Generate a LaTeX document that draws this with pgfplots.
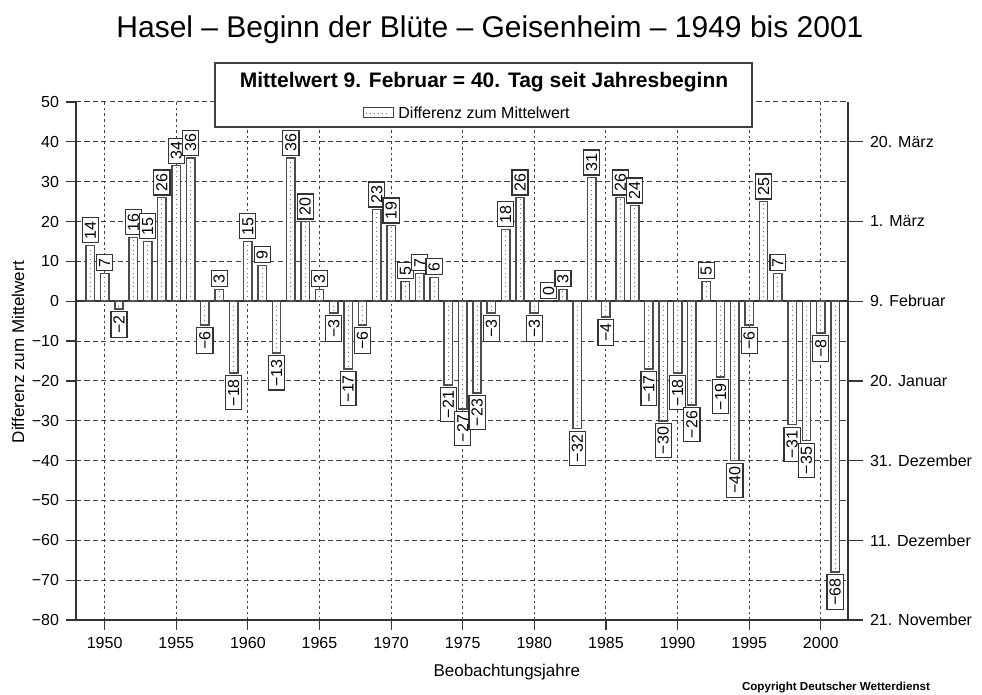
\documentclass[border=0pt]{standalone}
\usepackage{pgfplots}
\pgfplotsset{compat=1.18}
\usepackage{pgfplotstable}
\usepackage{graphicx}
\usepackage{fontspec}
\setmainfont{Liberation Sans}

\pgfplotstableread{
year diff
1949 14
1950 7
1951 -2
1952 16
1953 15
1954 26
1955 34
1956 36
1957 -6
1958 3
1959 -18
1960 15
1961 9
1962 -13
1963 36
1964 20
1965 3
1966 -3
1967 -17
1968 -6
1969 23
1970 19
1971 5
1972 7
1973 6
1974 -21
1975 -27
1976 -23
1977 -3
1978 18
1979 26
1980 -3
1981 0
1982 3
1983 -32
1984 31
1985 -4
1986 26
1987 24
1988 -17
1989 -30
1990 -18
1991 -26
1992 5
1993 -19
1994 -40
1995 -6
1996 25
1997 7
1998 -31
1999 -35
2000 -8
2001 -68
}\datatable

\newcommand\lbl[1]{\pgfmathprintnumberto[fixed, precision=0, assume math mode=true, 1000 sep={}]{#1}{\lbltmp}\pgfmathtruncatemacro\lv{\lbltmp}\ifnum\lv<0 \pgfmathtruncatemacro\la{-\lv}\char"2212\relax\la\else\lv\fi}

\begin{document}
\begin{tikzpicture}
\useasboundingbox (0,0) rectangle (491pt,347.5pt);
\begin{axis}[
  at={(38pt,37.5pt)}, anchor=south west,
  scale only axis, width=386pt, height=259pt,
  xmin=1948, xmax=2001.9, ymin=-80, ymax=50,
  axis x line*=bottom, axis y line*=left,
  x axis line style={-, black!80, line width=0.8pt},
  y axis line style={-, black!80, line width=0.8pt},
  tick align=outside, major tick length=5pt,
  tick style={black!80, line width=0.6pt},
  xtick={1950,1955,...,2000},
  ytick={-80,-70,...,50},
  yticklabels={−80,−70,−60,−50,−40,−30,−20,−10,0,10,20,30,40,50},
  xticklabel style={/pgf/number format/1000 sep={}},
  /pgf/number format/assume math mode=true,
  ticklabel style={font=\fontsize{8}{8}\selectfont},
  grid=major,
  x grid style={black!75, line width=0.5pt, dash pattern=on 1.3pt off 1.5pt},
  y grid style={black!75, line width=0.5pt, dash pattern=on 2.6pt off 1.6pt},
  xlabel={Beobachtungsjahre},
  ylabel={Differenz zum Mittelwert},
  label style={font=\fontsize{8.5}{8.5}\selectfont},
  x label style={at={(axis description cs:0.558,-0.1)}, anchor=center},
  y label style={at={(axis description cs:-0.075,0.517)}, anchor=center},
]
\draw[black!80, line width=0.8pt] (axis cs:1948,0) -- (axis cs:2001.9,0);
\addplot[ybar, bar width=4.2pt, fill=white, draw=black!70, line width=0.75pt]
  table[x=year, y=diff] {\datatable};
\addplot[ycomb, black!55, line width=0.5pt, dash pattern=on 0.5pt off 1.8pt, mark=none]
  table[x=year, y=diff] {\datatable};
\addplot[ybar, bar width=4.2pt, draw=none, fill=none,
  point meta=y,
  nodes near coords={\rotatebox{90}{\lbl{\pgfplotspointmeta}}},
  nodes near coords align={vertical},
  every node near coord/.append style={draw=black!80, fill=white, line width=0.6pt,
    inner xsep=1.2pt, inner ysep=1.8pt, outer sep=1.3pt, font=\fontsize{8}{8}\selectfont}]
  table[x=year, y=diff] {\datatable};
\end{axis}
\begin{axis}[
  at={(38pt,37.5pt)}, anchor=south west,
  scale only axis, width=386pt, height=259pt,
  xmin=1948, xmax=2001.9, ymin=-80, ymax=50,
  axis y line*=right, axis x line=none,
  y axis line style={-, black!80, line width=0.8pt},
  tick align=outside, major tick length=7.5pt,
  tick style={black!80, line width=0.6pt},
  ytick={-80,-60,-40,-20,0,20,40},
  yticklabels={21. November, 11. Dezember, 31. Dezember, 20. Januar, 9. Februar, 1. März, 20. März},
  yticklabel style={font=\fontsize{8}{8}\selectfont, anchor=west},
]
\end{axis}
\node[font=\fontsize{15}{15}\selectfont] at (245pt,332.5pt) {Hasel – Beginn der Blüte – Geisenheim – 1949 bis 2001};
\draw[black!75, line width=0.9pt, fill=white] (107.5pt,284pt) rectangle (376pt,316pt);
\node[font=\fontsize{10.5}{10.5}\selectfont\bfseries] at (242pt,306.5pt) {Mittelwert 9. Februar = 40. Tag seit Jahresbeginn};
\draw[black!75, line width=0.5pt] (181.5pt,288.5pt) rectangle (196.5pt,293.5pt);
\draw[black!55, line width=0.5pt, dash pattern=on 0.5pt off 1.5pt] (183pt,290.5pt) -- (195pt,290.5pt);
\node[font=\fontsize{8}{8}\selectfont, anchor=west, inner sep=0pt] at (199pt,291pt) {Differenz zum Mittelwert};
\node[font=\fontsize{5.8}{5.8}\selectfont\bfseries] at (418pt,3.5pt) {Copyright Deutscher Wetterdienst};
\end{tikzpicture}
\end{document}
